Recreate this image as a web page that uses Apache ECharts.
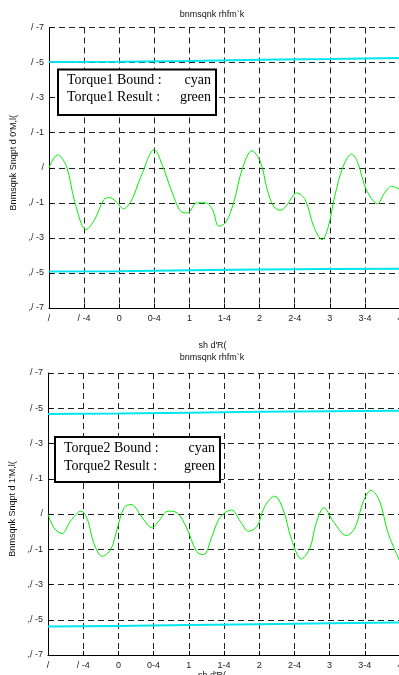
<!DOCTYPE html>
<html>
<head>
<meta charset="utf-8">
<script src="https://cdn.jsdelivr.net/npm/echarts@6/dist/echarts.min.js"></script>
<style>
html,body{margin:0;padding:0;background:#fff;}
#c{width:399px;height:675px;}
</style>
</head>
<body>
<div id="c"></div>
<script>
// ---- tick labels (as they appear in the reference, glyph-shifted) ----
const xTickLabels = ['/', '/ -4', '0', '0-4', '1', '1-4', '2', '2-4', '3', '3-4', '4'];
const yTickLabels = [',/ -7', ',/ -5', ',/ -3', ',/ -1', '/', '/ -1', '/ -3', '/ -5', '/ -7'];

const title1 = 'bnmsqnk rhfm`k';
const title2 = 'bnmsqnk rhfm`k';
const xName = "sh d'R(";
const yName1 = "Bnmsqnk Snqpt d 0'M,l(";
const yName2 = "Bnmsqnk Snqpt d 1'M,l(";
const legend1 = ['Torque1 Bound :', 'cyan', 'Torque1 Result :', 'green'];
const legend2 = ['Torque2 Bound :', 'cyan', 'Torque2 Result :', 'green'];

// ---- panel 1 data ----
const t1 = [0, 0.12, 0.25, 0.37, 0.53, 0.65, 0.78, 0.86, 0.96, 1.06, 1.17, 1.31, 1.50, 1.62, 1.74, 1.88, 1.97, 2.11, 2.23, 2.33, 2.42, 2.52, 2.63, 2.75, 2.89, 3.01, 3.11, 3.20, 3.30, 3.39, 3.53, 3.65, 3.77, 3.89, 3.98, 4.07, 4.19, 4.31, 4.40, 4.52, 4.68, 4.78, 4.88, 5.0];
const result1 = [0.0, 0.074, 0.007, -0.2, -0.353, -0.296, -0.182, -0.17, -0.195, -0.234, -0.19, -0.05, 0.103, 0.008, -0.125, -0.25, -0.258, -0.2, -0.2, -0.24, -0.334, -0.31, -0.2, -0.011, 0.097, 0.036, -0.125, -0.22, -0.243, -0.211, -0.144, -0.182, -0.334, -0.41, -0.334, -0.163, 0.007, 0.078, 0.027, -0.125, -0.205, -0.144, -0.106, -0.125];
const tb = [0, 1, 2, 3, 4, 5];
const bound1Upper = [0.603, 0.605, 0.609, 0.616, 0.62, 0.626];
const bound1Lower = [-0.592, -0.59, -0.585, -0.58, -0.578, -0.576];

// ---- panel 2 data ----
const t2 = [0, 0.085, 0.2, 0.32, 0.47, 0.56, 0.65, 0.77, 0.89, 0.98, 1.08, 1.18, 1.31, 1.41, 1.48, 1.57, 1.71, 1.83, 1.97, 2.11, 2.21, 2.33, 2.42, 2.52, 2.61, 2.73, 2.85, 2.97, 3.08, 3.22, 3.34, 3.46, 3.60, 3.72, 3.81, 3.92, 4.05, 4.24, 4.36, 4.48, 4.59, 4.71, 4.83, 5.0];
const result2 = [0, -0.079, -0.111, -0.04, 0.016, -0.031, -0.164, -0.24, -0.202, -0.088, 0.035, 0.054, -0.003, -0.06, -0.079, -0.041, 0.016, 0.007, -0.079, -0.212, -0.231, -0.126, -0.035, 0.01, 0.022, -0.041, -0.098, -0.069, 0.044, 0.101, 0.026, -0.145, -0.255, -0.193, -0.05, 0.035, -0.041, -0.122, -0.079, 0.073, 0.134, 0.073, -0.107, -0.27];
const bound2Upper = [0.567, 0.57, 0.575, 0.58, 0.583, 0.586];
const bound2Lower = [-0.639, -0.635, -0.63, -0.625, -0.62, -0.616];

const pairs = (xs, ys) => xs.map((x, i) => [x, ys[i]]);

const SANS = "'Liberation Sans', Arial, sans-serif";
const SERIF = "'Liberation Serif', 'Times New Roman', serif";
const CYAN = '#00e6f0';
const GREEN = '#00ee00';

function xAxisFor(gi) {
  return {
    type: 'value', gridIndex: gi, min: 0, max: 5, interval: 0.5,
    name: xName, nameLocation: 'middle', nameGap: gi === 0 ? 33 : 11,
    nameTextStyle: { fontFamily: SANS, fontSize: 9, color: '#111', padding: [0, 24, 0, 0] },
    axisLine: { show: true, onZero: false, lineStyle: { color: '#000', width: 1 } },
    axisTick: { show: true, inside: true, length: 4, lineStyle: { color: '#000' } },
    axisLabel: { fontFamily: SANS, fontSize: 9, color: '#222', margin: 6, hideOverlap: false,
      formatter: v => xTickLabels[Math.round(v / 0.5)] },
    splitLine: { show: true, lineStyle: { color: '#222', width: 1, type: [6, 4] } }
  };
}
function yAxisFor(gi, nm) {
  return {
    type: 'value', gridIndex: gi, min: -0.8, max: 0.8, interval: 0.2,
    name: nm, nameLocation: 'middle', nameGap: 29, nameRotate: 90,
    nameTextStyle: { fontFamily: SANS, fontSize: 9, color: '#111', padding: [0, 0, 0, 10] },
    axisLine: { show: true, onZero: false, lineStyle: { color: '#000', width: 1 } },
    axisTick: { show: true, inside: true, length: 4, lineStyle: { color: '#000' } },
    axisLabel: { fontFamily: SANS, fontSize: 9, color: '#222', margin: 5,
      formatter: v => yTickLabels[Math.round((v + 0.8) / 0.2)] },
    splitLine: { show: true, lineStyle: { color: '#222', width: 1, type: [6, 4] } }
  };
}

function legendBox(x, y, w, h, txt, lineY1, lineY2) {
  const tx = x + 9, rx = x + w - 5;
  const mk = (t, px, py, al) => ({
    type: 'text', x: px, y: py, z: 101,
    style: { text: t, font: '14px ' + SERIF, fill: '#000', align: al, verticalAlign: 'middle', textAlign: al, textVerticalAlign: 'middle' }
  });
  return [
    { type: 'rect', shape: { x: x, y: y, width: w, height: h }, z: 100,
      style: { fill: '#fff', stroke: '#000', lineWidth: 2 } },
    mk(txt[0], tx, lineY1, 'left'), mk(txt[1], rx, lineY1, 'right'),
    mk(txt[2], tx, lineY2, 'left'), mk(txt[3], rx, lineY2, 'right')
  ];
}
function titleText(t, cx, cy) {
  return { type: 'text', x: cx, y: cy, z: 100,
    style: { text: t, font: '9px ' + SANS, fill: '#111', align: 'center', verticalAlign: 'middle', textAlign: 'center', textVerticalAlign: 'middle' } };
}

const option = {
  animation: false,
  backgroundColor: '#fff',
  grid: [
    { left: 49, top: 27.5, width: 351, height: 280.5, containLabel: false, outerBoundsMode: 'none' },
    { left: 48, top: 373, width: 352, height: 282, containLabel: false, outerBoundsMode: 'none' }
  ],
  xAxis: [xAxisFor(0), xAxisFor(1)],
  yAxis: [yAxisFor(0, yName1), yAxisFor(1, yName2)],
  series: [
    { type: 'line', xAxisIndex: 0, yAxisIndex: 0, data: pairs(tb, bound1Upper), showSymbol: false, lineStyle: { color: CYAN, width: 2 } },
    { type: 'line', xAxisIndex: 0, yAxisIndex: 0, data: pairs(tb, bound1Lower), showSymbol: false, lineStyle: { color: CYAN, width: 2 } },
    { type: 'line', xAxisIndex: 0, yAxisIndex: 0, data: pairs(t1, result1), showSymbol: false, smooth: 0.35, lineStyle: { color: GREEN, width: 1 } },
    { type: 'line', xAxisIndex: 1, yAxisIndex: 1, data: pairs(tb, bound2Upper), showSymbol: false, lineStyle: { color: CYAN, width: 2 } },
    { type: 'line', xAxisIndex: 1, yAxisIndex: 1, data: pairs(tb, bound2Lower), showSymbol: false, lineStyle: { color: CYAN, width: 2 } },
    { type: 'line', xAxisIndex: 1, yAxisIndex: 1, data: pairs(t2, result2), showSymbol: false, smooth: 0.35, lineStyle: { color: GREEN, width: 1 } }
  ],
  graphic: [].concat(
    [titleText(title1, 212, 15), titleText(title2, 212, 358)],
    legendBox(58, 69.5, 158, 45.5, legend1, 80, 97.5),
    legendBox(55, 437, 165, 45, legend2, 448, 466)
  )
};

const chart = echarts.init(document.getElementById('c'), null, { renderer: 'canvas' });
chart.setOption(option);
</script>
</body>
</html>
